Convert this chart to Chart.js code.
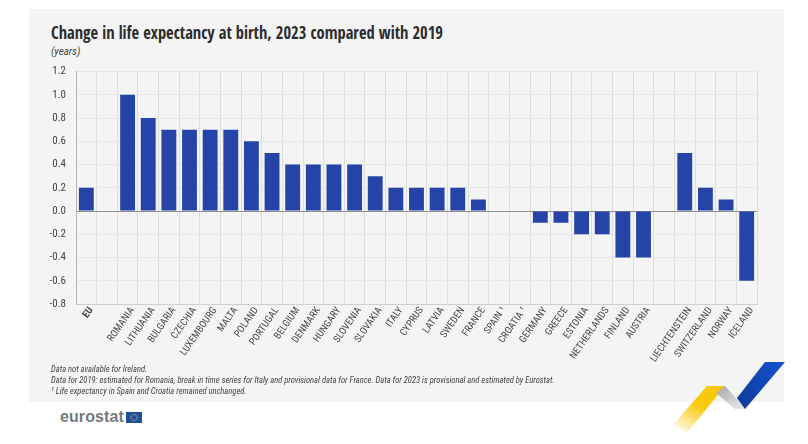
<!DOCTYPE html>
<html><head><meta charset="utf-8">
<style>
html,body{margin:0;padding:0;background:#fff;width:808px;height:444px;overflow:hidden}
#panel{position:absolute;left:29px;top:9px;width:755px;height:393px;background:#f4f4f5}
#wrap{position:absolute;left:28px;top:55px;width:740px;height:315px}
.t{position:absolute;font-family:"Roboto Condensed","Roboto",sans-serif;color:#333;white-space:nowrap;transform-origin:left top}
#title{left:51px;top:20px;font-family:"Open Sans Condensed","Roboto Condensed",sans-serif;font-size:18px;font-weight:bold;color:#2d2d2d;transform:scaleX(.916)}
#unit{left:51px;top:45px;font-size:11px;font-style:italic;color:#444}
.n{left:51px;font-size:9.5px;font-style:italic;color:#444;transform:scaleX(.897)}
#logo{left:60px;top:408px;font-family:"Liberation Sans",sans-serif;font-weight:bold;font-size:16px;color:#77787b;letter-spacing:.1px}
#flag{position:absolute;left:126px;top:412px}
#rib{position:absolute;left:660px;top:350px}
</style></head><body>
<div id="panel"></div>
<div class="t" id="title">Change in life expectancy at birth, 2023 compared with 2019</div>
<div class="t" id="unit">(years)</div>
<div id="wrap"><canvas id="c" width="740" height="315"></canvas></div>
<div class="t n" style="top:363px">Data not available for Ireland.</div>
<div class="t n" style="top:374px">Data for 2019: estimated for Romania, break in time series for Italy and provisional data for France. Data for 2023 is provisional and estimated by Eurostat.</div>
<div class="t n" style="top:385px">¹ Life expectancy in Spain and Croatia remained unchanged.</div>
<div class="t" id="logo">eurostat</div>
<svg id="flag" width="16" height="11"><rect width="16" height="11" fill="#1f4f9f"/><circle cx="8" cy="5.5" r="3" fill="none" stroke="#d9c84a" stroke-width="1" stroke-dasharray="1 .6"/></svg>
<svg id="rib" width="148" height="94" viewBox="660 350 148 94">
<defs>
<linearGradient id="y" x1="0.75" y1="0" x2="0.1" y2="1"><stop offset="0.4" stop-color="#f8c80a"/><stop offset="1" stop-color="#f8c80a" stop-opacity="0"/></linearGradient>
<linearGradient id="g" x1="0" y1="0" x2="1" y2="1"><stop offset="0" stop-color="#a5a7aa"/><stop offset="1" stop-color="#eceded"/></linearGradient>
<linearGradient id="b" x1="0" y1="1" x2="1" y2="0"><stop offset="0" stop-color="#0f3a97"/><stop offset="1" stop-color="#1551cf"/></linearGradient>
</defs>
<polygon points="707,386 725,386 687,433 673,425" fill="url(#y)"/>
<polygon points="725,386 716,393 735,409 746,409" fill="url(#g)"/>
<polygon points="765,362 785,362 745,409 737,398" fill="url(#b)"/>
</svg>
<script src="https://cdn.jsdelivr.net/npm/chart.js@4"></script>
<script>
const categories=["EU","","ROMANIA","LITHUANIA","BULGARIA","CZECHIA","LUXEMBOURG","MALTA","POLAND","PORTUGAL","BELGIUM","DENMARK","HUNGARY","SLOVENIA","SLOVAKIA","ITALY","CYPRUS","LATVIA","SWEDEN","FRANCE","SPAIN ¹","CROATIA ¹","GERMANY","GREECE","ESTONIA","NETHERLANDS","FINLAND","AUSTRIA"," ","LIECHTENSTEIN","SWITZERLAND","NORWAY","ICELAND"];
const values=[0.2,null,1.0,0.8,0.7,0.7,0.7,0.7,0.6,0.5,0.4,0.4,0.4,0.4,0.3,0.2,0.2,0.2,0.2,0.1,0,0,-0.1,-0.1,-0.2,-0.2,-0.4,-0.4,null,0.5,0.2,0.1,-0.6];
const yMin=-0.8,yMax=1.2,yStep=0.2;
const FF='"Roboto Condensed","Roboto",sans-serif';
new Chart(document.getElementById('c'),{
 type:'bar',
 data:{labels:categories,datasets:[{data:values,backgroundColor:'#2644a8',categoryPercentage:1,barPercentage:0.72}]},
 options:{responsive:false,animation:false,
  layout:{padding:{top:6,right:11,left:0,bottom:0}},
  plugins:{legend:{display:false},tooltip:{enabled:false}},
  scales:{
   x:{position:'bottom',afterFit:s=>{s.height=66},grid:{color:'#dcdddd',lineWidth:1,drawTicks:false},border:{color:'#cfcfcf'},
      ticks:{autoSkip:false,maxRotation:55,minRotation:55,padding:1,labelOffset:5,color:'#444',
        font:c=>({family:FF,size:10,weight:c.index===0?'bold':'normal'})}},
   y:{min:yMin,max:yMax,afterFit:s=>{s.width=48},afterBuildTicks:a=>{a.ticks=[];for(let i=-4;i<=6;i++)a.ticks.push({value:i*yStep});},
      grid:{color:c=>Math.abs(c.tick.value)<1e-9?'#8f8f8f':'#e6e7e7',lineWidth:1,drawTicks:false},
      border:{color:'#b5b5b5',width:1},
      ticks:{padding:10,color:'#444',font:{family:FF,size:11},callback:v=>v.toFixed(1)}}
  }
 }
});
</script>
</body></html>
